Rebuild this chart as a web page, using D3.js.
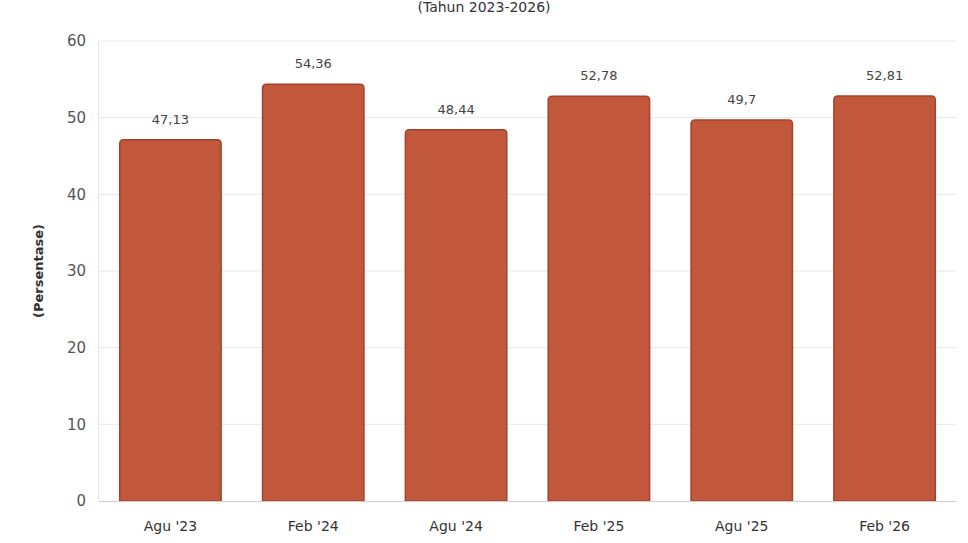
<!DOCTYPE html>
<html><head><meta charset="utf-8">
<script src="https://cdn.jsdelivr.net/npm/d3@7"></script>
<style>body{margin:0;background:#fff;} svg{display:block;font-family:"DejaVu Sans",sans-serif;}</style>
</head><body>
<svg id="c" width="968" height="543"></svg>
<script>
const categories = ["Agu '23","Feb '24","Agu '24","Feb '25","Agu '25","Feb '26"];
const values = [47.13, 54.36, 48.44, 52.78, 49.7, 52.81];
const yTicks = [0,10,20,30,40,50,60];
const title = "(Tahun 2023-2026)";
const yTitle = "(Persentase)";

const svg = d3.select("#c");
const x = d3.scaleBand().domain(categories).range([99,956]).paddingInner(0.29).paddingOuter(0.145);
const y = d3.scaleLinear().domain([0,60]).range([501,41]);

svg.append("text").attr("x",484).attr("y",12).attr("text-anchor","middle")
  .attr("font-size",14).attr("fill","#333").text(title);

// grid
svg.append("g").selectAll("line").data(yTicks.filter(d=>d>0)).join("line")
  .attr("x1",99).attr("x2",956).attr("y1",d=>y(d)).attr("y2",d=>y(d))
  .attr("stroke","#e8e8e8").attr("stroke-width",1);
// y axis line
svg.append("line").attr("x1",98.5).attr("x2",98.5).attr("y1",y(60)).attr("y2",y(0)).attr("stroke","#e3e3e3");

const yAxis = d3.axisLeft(y).tickValues(yTicks).tickSize(0).tickPadding(12);
const gy = svg.append("g").attr("transform","translate(98,0)").call(yAxis);
gy.select(".domain").remove();
gy.selectAll("text").attr("font-size",15).attr("fill","#555").attr("font-family","DejaVu Sans, sans-serif");

svg.append("text").attr("transform",`translate(43,${y(30)}) rotate(-90)`).attr("text-anchor","middle")
  .attr("font-size",13).attr("font-weight","bold").attr("fill","#333").text(yTitle);

// bars
const r = 4;
svg.append("g").selectAll("path").data(categories).join("path")
  .attr("d",(c,i)=>{
    const x0 = x(c), w = x.bandwidth(), t = y(values[i]), b = y(0);
    return `M${x0},${b}V${t+r}Q${x0},${t} ${x0+r},${t}H${x0+w-r}Q${x0+w},${t} ${x0+w},${t+r}V${b}Z`;
  })
  .attr("fill","#c1583b").attr("stroke","#a9412a").attr("stroke-width",1.5);

// baseline
svg.append("line").attr("x1",99).attr("x2",956).attr("y1",501.5).attr("y2",501.5).attr("stroke","#cfcfcf");

// value labels
svg.append("g").selectAll("text").data(categories).join("text")
  .attr("x",c=>x(c)+x.bandwidth()/2).attr("y",(c,i)=>y(values[i])-16)
  .attr("text-anchor","middle").attr("font-size",13).attr("fill","#444")
  .text((c,i)=>String(values[i]).replace(".",","));

const xAxis = d3.axisBottom(x).tickSize(0).tickPadding(20);
const gx = svg.append("g").attr("transform","translate(0,501)").call(xAxis);
gx.select(".domain").remove();
gx.selectAll("text").attr("font-size",14).attr("fill","#333").attr("font-family","DejaVu Sans, sans-serif");
</script>
</body></html>
